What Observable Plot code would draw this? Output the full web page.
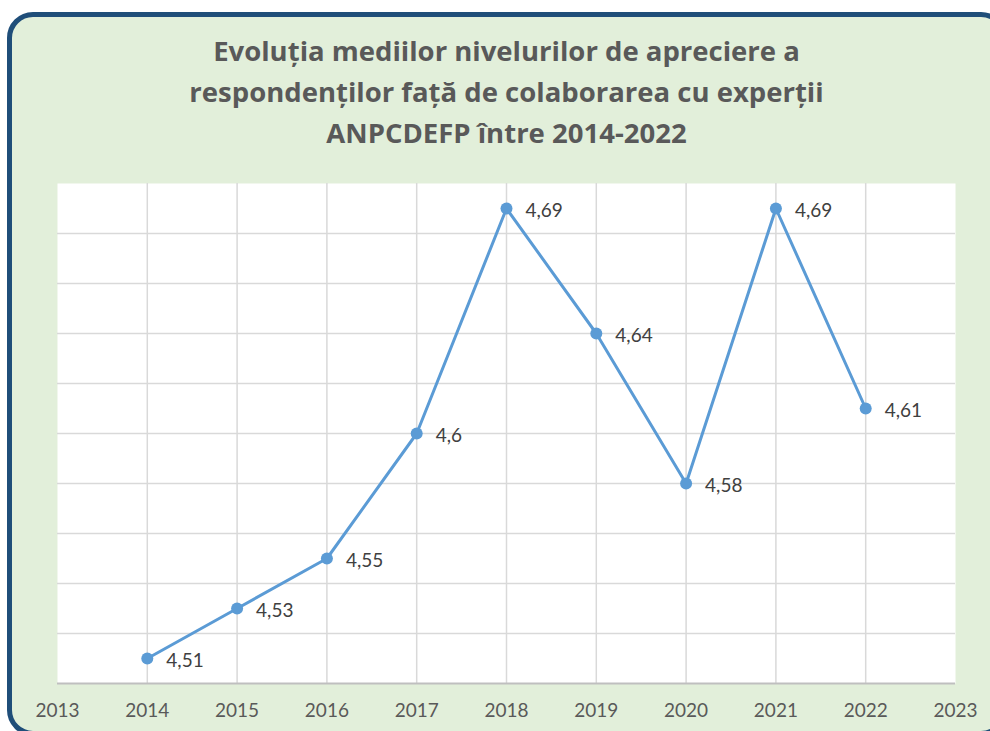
<!DOCTYPE html>
<html>
<head>
<meta charset="utf-8">
<script src="https://cdn.jsdelivr.net/npm/d3@7"></script>
<script src="https://cdn.jsdelivr.net/npm/@observablehq/plot@0.6"></script>
<style>
  html, body { margin: 0; padding: 0; background: #ffffff; width: 990px; height: 731px; overflow: hidden; position: relative; }
  #box { position: absolute; left: 7px; top: 12px; width: 990px; height: 714px; border: 5px solid #1f4e79; border-radius: 26px; background: #e2efda; box-sizing: content-box; }
  #title { position: absolute; left: 0; top: 30px; width: 1013px; text-align: center; font-family: "Open Sans", Lato, sans-serif; font-weight: bold; font-size: 27.5px; line-height: 41px; color: #595959; }
  #chart { position: absolute; left: 0; top: 170px; }
</style>
</head>
<body>
<div id="box"></div>
<div id="title">Evoluția mediilor nivelurilor de apreciere a<br>respondenților față de colaborarea cu experții<br>ANPCDEFP între 2014-2022</div>
<div id="chart"></div>
<script>
const years = [2014, 2015, 2016, 2017, 2018, 2019, 2020, 2021, 2022];
const values = [4.51, 4.53, 4.55, 4.60, 4.69, 4.64, 4.58, 4.69, 4.61];
const labels = ["4,51", "4,53", "4,55", "4,6", "4,69", "4,64", "4,58", "4,69", "4,61"];
const xTicks = [2013, 2014, 2015, 2016, 2017, 2018, 2019, 2020, 2021, 2022, 2023];
const yGrid = [4.52, 4.54, 4.56, 4.58, 4.60, 4.62, 4.64, 4.66, 4.68];

const data = years.map((y, i) => ({year: y, value: values[i], label: labels[i]}));

const chart = Plot.plot({
  width: 990,
  height: 560,
  marginLeft: 57,
  marginRight: 35,
  marginTop: 13,
  marginBottom: 47,
  style: {background: "transparent", overflow: "visible"},
  x: {domain: [2013, 2023]},
  y: {domain: [4.5, 4.7], axis: null},
  marks: [
    Plot.frame({fill: "white", stroke: "none"}),
    Plot.ruleY(yGrid, {stroke: "#d9d9d9", strokeWidth: 1.5}),
    Plot.ruleX(years, {stroke: "#d9d9d9", strokeWidth: 1.5}),
    Plot.ruleY([4.5], {stroke: "#bfbfbf", strokeWidth: 2}),
    Plot.line(data, {x: "year", y: "value", stroke: "#5b9bd5", strokeWidth: 3}),
    Plot.dot(data, {x: "year", y: "value", fill: "#5b9bd5", r: 6}),
    Plot.text(data, {x: "year", y: "value", text: "label", dx: 19, dy: 2, textAnchor: "start", fill: "#404040", fontSize: 19, fontFamily: "Lato, 'Open Sans', sans-serif"}),
    Plot.axisX({ticks: xTicks, tickFormat: d => String(d), tickSize: 0, tickPadding: 20, fontSize: 19, fontFamily: "Lato, 'Open Sans', sans-serif", color: "#595959", label: null})
  ]
});
document.getElementById("chart").appendChild(chart);
</script>
</body>
</html>
